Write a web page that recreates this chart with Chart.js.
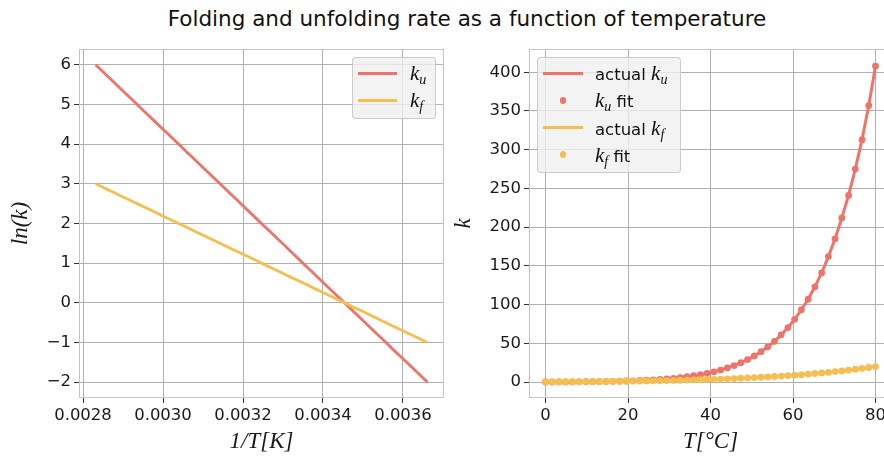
<!DOCTYPE html>
<html>
<head>
<meta charset="utf-8">
<script src="https://cdn.jsdelivr.net/npm/chart.js@4"></script>
<style>
  html, body { margin: 0; padding: 0; background: #fff; overflow: hidden; width: 884px; height: 460px; }
  #wrap { position: relative; width: 884px; height: 460px; overflow: hidden; }
  canvas { position: absolute; top: 0; }
  #title { position: absolute; top: 6px; left: 0; width: 934px; text-align: center;
           font: 21.5px "DejaVu Sans"; color: #111; }
  .legend { position: absolute; box-sizing: border-box; background: rgba(240,240,240,0.8);
            border: 1px solid rgba(200,200,200,0.9); border-radius: 4px;
            font: 16.5px "DejaVu Sans"; color: #111; }
  .row { position: absolute; left: 0; right: 0; height: 22px; line-height: 22px; white-space: nowrap; }
  .sw { position: absolute; }
  .txt { position: absolute; top: 0; }
  .m { font-family: "Liberation Serif"; font-style: italic; font-size: 21px; }
  .s { font-family: "Liberation Serif"; font-style: italic; font-size: 14px; vertical-align: -4px; }
</style>
</head>
<body>
<div id="wrap">
  <div id="title">Folding and unfolding rate as a function of temperature</div>
  <canvas id="left" width="450" height="460" style="left:0"></canvas>
  <canvas id="right" width="450" height="460" style="left:450px"></canvas>
  <div id="legLeft" class="legend"></div>
  <div id="legRight" class="legend"></div>
</div>
<script>
// temperatures (deg C) of the sampled points
const tempC = [0, 1.63, 3.27, 4.90, 6.53, 8.16, 9.80, 11.43, 13.06, 14.69, 16.33, 17.96, 19.59, 21.22, 22.86,
  24.49, 26.12, 27.76, 29.39, 31.02, 32.65, 34.29, 35.92, 37.55, 39.18, 40.82, 42.45, 44.08, 45.71, 47.35,
  48.98, 50.61, 52.24, 53.88, 55.51, 57.14, 58.78, 60.41, 62.04, 63.67, 65.31, 66.94, 68.57, 70.20, 71.84,
  73.47, 75.10, 76.73, 78.37, 80];
const ku = [0.135, 0.167, 0.205, 0.252, 0.309, 0.377, 0.459, 0.559, 0.678, 0.821, 0.992, 1.20, 1.44, 1.73, 2.07,
  2.47, 2.95, 3.52, 4.18, 4.96, 5.88, 6.95, 8.20, 9.66, 11.4, 13.3, 15.6, 18.3, 21.4, 25.0,
  29.1, 33.8, 39.3, 45.5, 52.7, 61.0, 70.4, 81.1, 93.4, 107, 123, 141, 162, 185, 212,
  241, 275, 313, 357, 408];
const kf = [0.368, 0.409, 0.453, 0.502, 0.556, 0.614, 0.678, 0.748, 0.823, 0.906, 0.996, 1.09, 1.20, 1.31, 1.44,
  1.57, 1.72, 1.88, 2.04, 2.23, 2.42, 2.64, 2.86, 3.11, 3.37, 3.65, 3.96, 4.28, 4.63, 5.00,
  5.39, 5.82, 6.27, 6.75, 7.26, 7.81, 8.39, 9.01, 9.67, 10.4, 11.1, 11.9, 12.7, 13.6, 14.5,
  15.5, 16.6, 17.7, 18.9, 20.1];

// left panel: ln(k) against 1/T
const invT = [0.003661, 0.0036392, 0.0036178, 0.0035965, 0.0035755, 0.0035548, 0.0035342, 0.003514, 0.0034939,
  0.0034741, 0.0034545, 0.0034351, 0.003416, 0.003397, 0.0033783, 0.0033598, 0.0033414, 0.0033233, 0.0033054,
  0.0032876, 0.0032701, 0.0032527, 0.0032355, 0.0032185, 0.0032017, 0.0031851, 0.0031686, 0.0031523, 0.0031361,
  0.0031202, 0.0031043, 0.0030887, 0.0030732, 0.0030578, 0.0030427, 0.0030276, 0.0030127, 0.002998, 0.0029834,
  0.0029689, 0.0029546, 0.0029404, 0.0029264, 0.0029125, 0.0028987, 0.002885, 0.0028715, 0.0028581, 0.0028448,
  0.0028317];
const lnKu = [-2.00, -1.79, -1.58, -1.38, -1.18, -0.975, -0.778, -0.582, -0.389, -0.197, -0.008, 0.179, 0.363,
  0.546, 0.727, 0.906, 1.083, 1.257, 1.430, 1.602, 1.771, 1.938, 2.104, 2.268, 2.431, 2.591, 2.750, 2.907,
  3.063, 3.217, 3.370, 3.521, 3.670, 3.818, 3.965, 4.110, 4.254, 4.396, 4.537, 4.676, 4.814, 4.951, 5.087,
  5.221, 5.354, 5.486, 5.616, 5.746, 5.874, 6.00];
const lnKf = [-1.00, -0.895, -0.79, -0.69, -0.59, -0.488, -0.389, -0.291, -0.195, -0.099, -0.004, 0.090, 0.182,
  0.273, 0.364, 0.453, 0.542, 0.629, 0.715, 0.801, 0.886, 0.969, 1.052, 1.134, 1.216, 1.296, 1.375, 1.454,
  1.532, 1.609, 1.685, 1.761, 1.835, 1.909, 1.983, 2.055, 2.127, 2.198, 2.269, 2.338, 2.407, 2.476, 2.544,
  2.611, 2.677, 2.743, 2.808, 2.873, 2.937, 3.00];

const leftXTicks = [0.0028, 0.0030, 0.0032, 0.0034, 0.0036];
const leftYTicks = [-2, -1, 0, 1, 2, 3, 4, 5, 6];
const rightXTicks = [0, 20, 40, 60, 80];
const rightYTicks = [0, 50, 100, 150, 200, 250, 300, 350, 400];

const RED = '#F07369';
const YEL = '#F5BE50';
const GRID = '#b0b0b0';
const SPINE = '#c4c4c4';
const TXT = '#1a1a1a';

function pts(xs, ys) { return xs.map((x, i) => ({ x: x, y: ys[i] })); }
function minus(v) { return v < 0 ? '\u2212' + Math.abs(v) : String(v); }

const spines = {
  id: 'spines',
  beforeDatasetsDraw(chart) {
    const a = chart.chartArea, c = chart.ctx;
    c.save();
    c.strokeStyle = SPINE;
    c.lineWidth = 1;
    c.strokeRect(Math.round(a.left) + 0.5, Math.round(a.top) + 0.5,
      Math.round(a.right - a.left) - 1, Math.round(a.bottom - a.top) - 1);
    c.restore();
  }
};

function axis(opts) {
  return {
    type: 'linear',
    min: opts.min, max: opts.max,
    afterBuildTicks: s => { s.ticks = opts.ticks.map(v => ({ value: v })); },
    afterFit: s => { if (opts.w) s.width = opts.w; if (opts.h) s.height = opts.h; },
    ticks: { color: TXT, font: { family: 'DejaVu Sans', size: 16.5 }, padding: 3,
             autoSkip: false, maxRotation: 0, callback: opts.fmt },
    grid: { color: GRID, lineWidth: 1, tickColor: '#333', tickLength: 5, tickWidth: 1 },
    border: { display: false },
    title: { display: true, text: opts.title, color: TXT,
             font: { family: 'Liberation Serif', style: 'italic', size: 23 },
             padding: opts.tpad }
  };
}

const common = {
  responsive: false,
  animation: false,
  plugins: { legend: { display: false }, tooltip: { enabled: false } },
};

new Chart(document.getElementById('left'), {
  type: 'scatter',
  data: {
    datasets: [
      { data: pts(invT, lnKu), showLine: true, borderColor: RED, borderWidth: 2.8, pointRadius: 0, order: 1 },
      { data: pts(invT, lnKf), showLine: true, borderColor: YEL, borderWidth: 2.8, pointRadius: 0, order: 0 }
    ]
  },
  options: Object.assign({}, common, {
    layout: { padding: { top: 49, right: 6, left: 0, bottom: 0 } },
    scales: {
      x: axis({ min: 0.00279, max: 0.0037025, ticks: leftXTicks, h: 62, title: '1/T[K]',
                fmt: v => v.toFixed(4), tpad: { top: 0, bottom: 4 } }),
      y: axis({ min: -2.4, max: 6.4, ticks: leftYTicks, w: 79, title: 'ln(k)',
                fmt: v => minus(v), tpad: { top: 7, bottom: 0 } })
    }
  }),
  plugins: [spines]
});

new Chart(document.getElementById('right'), {
  type: 'scatter',
  data: {
    datasets: [
      { data: pts(tempC, ku), showLine: true, borderColor: RED, borderWidth: 3, pointRadius: 0, order: 3 },
      { data: pts(tempC, ku), showLine: false, backgroundColor: RED, borderWidth: 0, pointRadius: 3.4, order: 2 },
      { data: pts(tempC, kf), showLine: true, borderColor: YEL, borderWidth: 3, pointRadius: 0, order: 1 },
      { data: pts(tempC, kf), showLine: false, backgroundColor: YEL, borderWidth: 0, pointRadius: 3.4, order: 0 }
    ]
  },
  options: Object.assign({}, common, {
    layout: { padding: { top: 49, right: 8, left: 0, bottom: 0 } },
    scales: {
      x: axis({ min: -4, max: 84, ticks: rightXTicks, h: 62, title: 'T[\u00b0C]',
                fmt: v => String(v), tpad: { top: 0, bottom: 4 } }),
      y: axis({ min: -20.5, max: 430, ticks: rightYTicks, w: 79, title: 'k',
                fmt: v => String(v), tpad: { top: 0, bottom: 0 } })
    }
  }),
  plugins: [spines]
});

// legends drawn as html so the subscripts stay real text
function buildLegend(id, box, items) {
  const el = document.getElementById(id);
  Object.assign(el.style, { left: box.x + 'px', top: box.y + 'px', width: box.w + 'px', height: box.h + 'px' });
  items.forEach((it, i) => {
    const cy = box.first + box.dy * i;
    const row = document.createElement('div');
    row.className = 'row';
    row.style.top = (cy - 11) + 'px';
    const sw = document.createElement('div');
    sw.className = 'sw';
    if (it.kind === 'line') {
      Object.assign(sw.style, { left: '5px', top: '9.5px', width: box.lineW + 'px', height: '3px', background: it.color });
    } else {
      Object.assign(sw.style, { left: (5 + box.lineW / 2 - 3.4) + 'px', top: '7.6px', width: '6.8px', height: '6.8px',
                                borderRadius: '50%', background: it.color });
    }
    const tx = document.createElement('div');
    tx.className = 'txt';
    tx.style.left = box.textX + 'px';
    tx.innerHTML = it.html;
    row.appendChild(sw);
    row.appendChild(tx);
    el.appendChild(row);
  });
}

const kuHtml = '<span class="m">k</span><span class="s">u</span>';
const kfHtml = '<span class="m">k</span><span class="s">f</span>';

buildLegend('legLeft', { x: 352, y: 57, w: 84, h: 62, first: 15, dy: 27, lineW: 39, textX: 57 }, [
  { kind: 'line', color: RED, html: kuHtml },
  { kind: 'line', color: YEL, html: kfHtml }
]);
buildLegend('legRight', { x: 537, y: 57, w: 144, h: 116, first: 15, dy: 27.3, lineW: 40, textX: 57 }, [
  { kind: 'line', color: RED, html: 'actual ' + kuHtml },
  { kind: 'dot', color: RED, html: kuHtml + ' fit' },
  { kind: 'line', color: YEL, html: 'actual ' + kfHtml },
  { kind: 'dot', color: YEL, html: kfHtml + ' fit' }
]);
</script>
</body>
</html>
